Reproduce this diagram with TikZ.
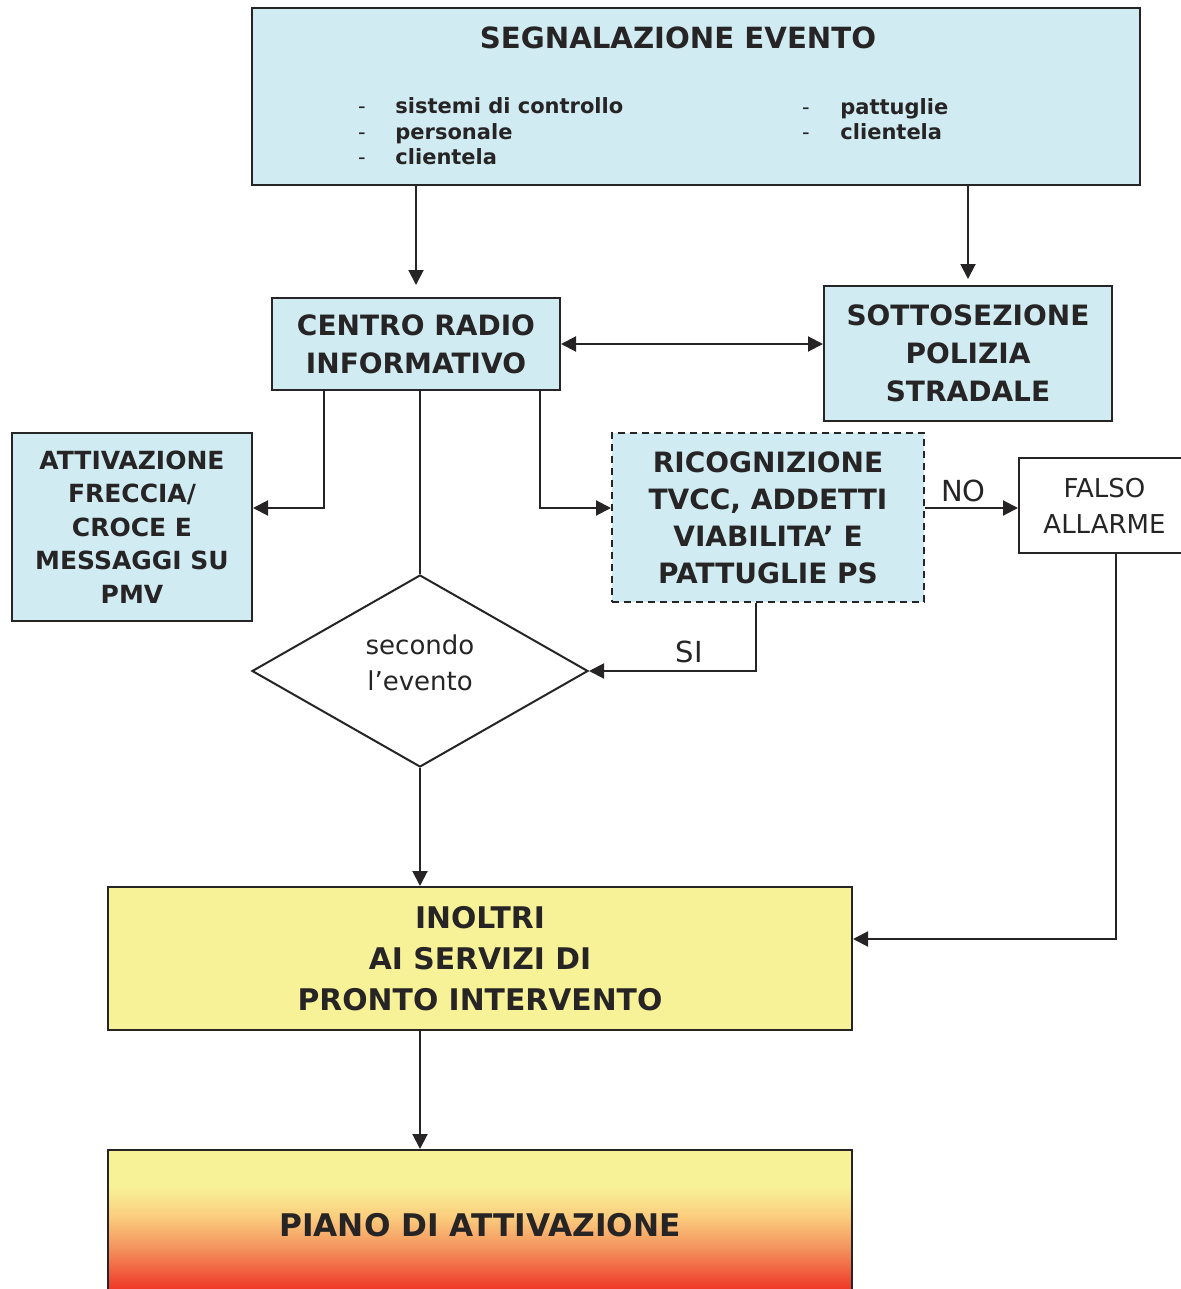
\documentclass[tikz,border=0pt]{standalone}
\usepackage{fontspec}
\setmainfont{DejaVu Sans}
\usetikzlibrary{positioning,arrows.meta,shapes.geometric,calc}
\definecolor{boxblue}{RGB}{208,236,242}
\definecolor{boxyel}{RGB}{247,242,152}
\definecolor{pianoA}{RGB}{251,206,126}
\definecolor{pianoO}{RGB}{244,150,95}
\definecolor{pianoR}{RGB}{238,52,36}
\definecolor{edgek}{RGB}{38,36,37}
\pgfdeclareverticalshading{pianoshade}{100bp}{color(0bp)=(pianoR); color(28bp)=(pianoR);
  color(43bp)=(pianoO); color(53bp)=(pianoA); color(63bp)=(boxyel); color(100bp)=(boxyel)}

\begin{document}
\begin{tikzpicture}[
  x=0.5pt, y=-0.5pt,
  box/.style={draw=edgek, line width=1pt, fill=boxblue, align=center, inner sep=2pt,
    text=edgek, font=\bfseries\fontsize{14}{19}\selectfont},
  plain/.style={draw=edgek, line width=1pt, fill=white, align=center, inner sep=2pt,
    text=edgek, font=\fontsize{13}{18}\selectfont},
  lbl/.style={text=edgek, font=\fontsize{14.5}{16}\selectfont},
  lst/.style={text=edgek, inner sep=0pt, font=\bfseries\fontsize{10.5}{12.5}\selectfont},
  arr/.style={-{Triangle[length=7.5pt,width=7.5pt]}, line width=1pt, color=edgek},
  link/.style={line width=1pt, color=edgek},
]
\useasboundingbox (0,0) rectangle (1181,1289);

% ---------- Segnalazione evento ----------
\node[box, minimum width=444pt, minimum height=88.5pt] (segnal) at (696,96.5) {};
\node[box, draw=none, fill=none, anchor=base, font=\bfseries\fontsize{14.6}{17}\selectfont]
  (titolo) at (678,49) {SEGNALAZIONE EVENTO};

\foreach [count=\i] \voce in {sistemi di controllo, personale, clientela}{
  \pgfmathsetmacro{\y}{114+(\i-1)*25.5}
  \node[lst, anchor=base, font=\fontsize{10.5}{12.5}\selectfont] at (362,\y) {-};
  \node[lst, anchor=base west] at (395,\y) {\voce};
}
\foreach [count=\i] \voce in {pattuglie, clientela}{
  \pgfmathsetmacro{\y}{115+(\i-1)*25}
  \node[lst, anchor=base, font=\fontsize{10.5}{12.5}\selectfont] at (806,\y) {-};
  \node[lst, anchor=base west] at (840,\y) {\voce};
}

% ---------- second row ----------
\node[box, minimum width=144pt, minimum height=46pt] (cri) at (416,344)
  {CENTRO RADIO\\INFORMATIVO};
\node[box, minimum width=144pt, minimum height=67.5pt] (sps) at (968,353.5)
  {SOTTOSEZIONE\\POLIZIA\\STRADALE};

\draw[arr, shorten >=6pt] (segnal.south -| cri.north) -- (cri.north);
\draw[arr, shorten >=3pt] (segnal.south -| sps.north) -- (sps.north);
\draw[arr, {Triangle[length=7.5pt,width=7.5pt]}-{Triangle[length=7.5pt,width=7.5pt]}]
  (cri.east) -- (sps.west |- cri.east);

% ---------- third row ----------
\node[box, minimum width=120pt, minimum height=94pt,
  font=\bfseries\fontsize{12.5}{16.8}\selectfont] (att) at (132,527)
  {ATTIVAZIONE\\FRECCIA/\\CROCE E\\MESSAGGI SU\\PMV};
\node[box, dash pattern=on 3.5pt off 2.5pt, minimum width=156pt, minimum height=84.5pt,
  font=\bfseries\fontsize{14}{18.5}\selectfont] (ric) at (768,517.5)
  {RICOGNIZIONE\\TVCC, ADDETTI\\VIABILITA’ E\\PATTUGLIE PS};
\node[plain, minimum width=85.5pt, minimum height=47.5pt] (falso) at (1104.5,505.5)
  {FALSO\\ALLARME};

\coordinate (ya) at (0,508);
\coordinate (xl) at (324,0);
\coordinate (xr) at (540,0);
\draw[arr] (cri.south -| xl) |- (att.east |- ya);
\draw[arr] (cri.south -| xr) |- (ric.west |- ya);
\draw[arr] (ric.east |- ya) -- node[lbl, above=-1pt, xshift=-4pt] {NO} (falso.west |- ya);

% ---------- decisione ----------
\node[diamond, draw=edgek, line width=1pt, fill=white, inner sep=0pt,
  minimum width=168pt, minimum height=96pt, text=edgek,
  font=\fontsize{13}{18}\selectfont] (evento) at (420,671)
  {\raisebox{0pt}[0pt][0pt]{\begin{tabular}{@{}c@{}}secondo\\l’evento\end{tabular}}};

\draw[link] (evento.north |- cri.south) -- (evento.north);
\coordinate (xs) at (756,0);
\draw[arr] (ric.south -| xs) |- node[lbl, above, pos=0.7] {SI} (evento.east);

% ---------- inoltri e piano ----------
\node[box, fill=boxyel, minimum width=372pt, minimum height=71.5pt,
  font=\bfseries\fontsize{14.9}{20.5}\selectfont] (inoltri) at (480,958.5)
  {INOLTRI\\AI SERVIZI DI\\PRONTO INTERVENTO};
\node[box, minimum width=372pt, minimum height=75pt, shading=pianoshade,
  font=\bfseries\fontsize{15.6}{18}\selectfont] (piano) at (480,1225)
  {PIANO DI ATTIVAZIONE};

\draw[arr] (evento.south) -- (inoltri.north -| evento.south);
\coordinate (xf) at (1116,0);
\coordinate (yb) at (0,939);
\draw[arr] (falso.south -| xf) |- (inoltri.east |- yb);
\draw[arr] (inoltri.south -| evento.south) -- (piano.north -| evento.south);

\end{tikzpicture}
\end{document}
